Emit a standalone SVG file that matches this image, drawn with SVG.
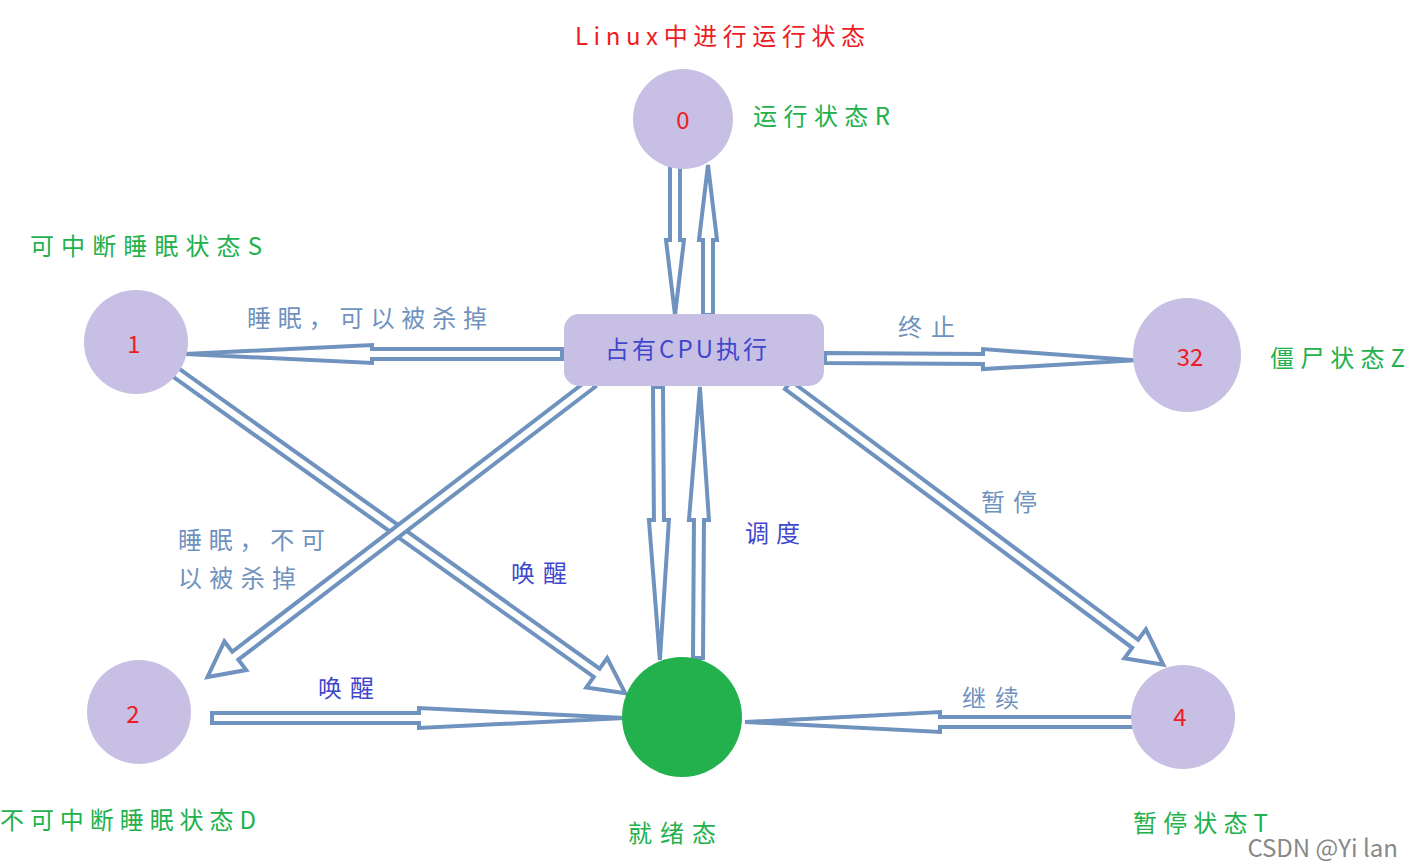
<svg xmlns="http://www.w3.org/2000/svg" width="1413" height="867" viewBox="0 0 1413 867">
<style>
text{font-family:"Noto Sans CJK SC","Liberation Serif",serif;font-size:24px}
.ar{fill:#fff;stroke:#7092be;stroke-width:4;stroke-linejoin:miter}
.st{fill:#c8c0e4}
.red{fill:#ee1c24}
.grn{fill:#22b14c}
.gb{fill:#7092be}
.db{fill:#3f48cc}
</style>
<rect width="1413" height="867" fill="#fff"/>
<g id="connectors">
<polygon class="ar" transform="translate(675,165) rotate(90)" points="0,-5 75,-5 75,-9 150,0 75,9 75,5 0,5"/>
<polygon class="ar" transform="translate(708,315) rotate(-90)" points="0,-5 75,-5 75,-9 150,0 75,9 75,5 0,5"/>
<polygon class="ar" transform="translate(562,354) rotate(180)" points="0,-5 190,-5 190,-9 377,0 190,9 190,5 0,5"/>
<polygon class="ar" transform="translate(825,358) rotate(0.4)" points="0,-5 158,-5 158,-10 310,0 158,10 158,5 0,5"/>
<polygon class="ar" transform="translate(175,372) rotate(35.5)" points="0,-5 518,-5 518,-18 553,0 518,18 518,5 0,5"/>
<polygon class="ar" transform="translate(592,383) rotate(142.6)" points="0,-5 449,-5 449,-18 484,0 449,18 449,5 0,5"/>
<polygon class="ar" transform="translate(658,387) rotate(89.6)" points="0,-5 133,-5 133,-10 273,0 133,10 133,5 0,5"/>
<polygon class="ar" transform="translate(698,658) rotate(-89.6)" points="0,-5 138,-5 138,-10 271,0 138,10 138,5 0,5"/>
<polygon class="ar" transform="translate(788,385) rotate(36.7)" points="0,-5 433,-5 433,-18 468,0 433,18 433,5 0,5"/>
<polygon class="ar" transform="translate(212,718) rotate(0)" points="0,-5 207,-5 207,-10 413,0 207,10 207,5 0,5"/>
<polygon class="ar" transform="translate(1137,722) rotate(180)" points="0,-5 197,-5 197,-10 392,0 197,10 197,5 0,5"/>
</g>
<g id="n0"><circle class="st" cx="683" cy="119" r="50"/><text class="red" x="683" y="129" text-anchor="middle" font-family="Liberation Serif">0</text></g>
<g id="n1"><circle class="st" cx="136" cy="342" r="52"/><text class="red" x="134" y="353" text-anchor="middle" font-family="Liberation Serif">1</text></g>
<g id="n2"><circle class="st" cx="139" cy="712" r="52"/><text class="red" x="133" y="723" text-anchor="middle" font-family="Liberation Serif">2</text></g>
<g id="n32"><ellipse class="st" cx="1187" cy="355" rx="54" ry="57"/><text class="red" x="1190" y="366" text-anchor="middle" font-family="Liberation Serif">32</text></g>
<g id="n4"><circle class="st" cx="1183" cy="717" r="52"/><text class="red" x="1180" y="726" text-anchor="middle" font-family="Liberation Serif">4</text></g>
<g id="ready"><circle cx="682" cy="717" r="60" fill="#22b14c"/></g>
<g id="cpu"><rect x="564" y="314" width="260" height="72" rx="15" fill="#c8c0e4"/><text class="db" x="605" y="358" textLength="162" lengthAdjust="spacing">占有CPU执行</text></g>
<g id="labels">
<text class="red" x="575" y="45" textLength="290" lengthAdjust="spacing">Linux中进行运行状态</text>
<text class="grn" x="753" y="125" textLength="137" lengthAdjust="spacing">运行状态R</text>
<text class="grn" x="30" y="255" textLength="232" lengthAdjust="spacing">可中断睡眠状态S</text>
<text class="grn" x="1270" y="367" textLength="135" lengthAdjust="spacing">僵尸状态Z</text>
<text class="grn" x="0" y="829" textLength="256" lengthAdjust="spacing">不可中断睡眠状态D</text>
<text class="grn" x="628" y="842" textLength="88" lengthAdjust="spacing">就绪态</text>
<text class="grn" x="1133" y="832" textLength="135" lengthAdjust="spacing">暂停状态T</text>
<text class="gb" x="247" y="327" textLength="240" lengthAdjust="spacing">睡眠，可以被杀掉</text>
<text class="gb" x="898" y="336" textLength="57" lengthAdjust="spacing">终止</text>
<text class="gb" x="981" y="511" textLength="56" lengthAdjust="spacing">暂停</text>
<text class="gb" x="178" y="549" textLength="147" lengthAdjust="spacing">睡眠，不可</text>
<text class="gb" x="178" y="587" textLength="118" lengthAdjust="spacing">以被杀掉</text>
<text class="db" x="745" y="542" textLength="55" lengthAdjust="spacing">调度</text>
<text class="db" x="511" y="582" textLength="56" lengthAdjust="spacing">唤醒</text>
<text class="db" x="318" y="697" textLength="56" lengthAdjust="spacing">唤醒</text>
<text class="gb" x="962" y="707" textLength="57" lengthAdjust="spacing">继续</text>
<text x="1398" y="857" text-anchor="end" font-family="Liberation Sans" font-size="11" fill="#888">CSDN @Yi lan</text>
</g>
</svg>
